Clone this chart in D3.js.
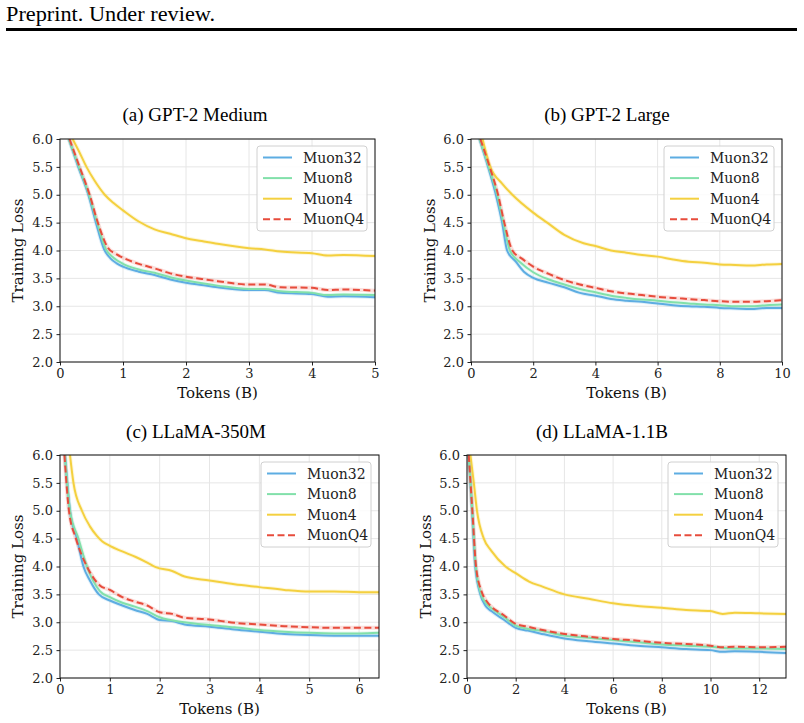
<!DOCTYPE html>
<html><head><meta charset="utf-8">
<script src="https://cdn.jsdelivr.net/npm/d3@7"></script>
<style>body{margin:0;background:#fff}svg{display:block}
.ser{font-family:"DejaVu Serif","Liberation Serif",serif}
.doc{font-family:"Liberation Serif","Times New Roman",serif}
</style>
</head><body>
<svg id="chart" width="804" height="723"></svg>
<script>
// ---------- data ----------
const seriesNames = ["Muon32", "Muon8", "Muon4", "MuonQ4"];
const yTicks = [2.0, 2.5, 3.0, 3.5, 4.0, 4.5, 5.0, 5.5, 6.0];

// (a) GPT-2 Medium
const aTicks = [0, 1, 2, 3, 4, 5];
const aMuon32 = [[0.14,6.0],[0.29,5.5],[0.45,5.0],[0.57,4.5],[0.7,4.02],[0.8,3.86],[0.9,3.77],[1.0,3.71],[1.25,3.62],[1.5,3.56],[1.75,3.48],[2.0,3.42],[2.25,3.38],[2.5,3.34],[3.0,3.29],[3.25,3.29],[3.5,3.24],[4.0,3.22],[4.25,3.17],[4.5,3.18],[5.0,3.16]];
const aMuon8 = [[0.14,6.0],[0.3,5.5],[0.46,5.0],[0.59,4.5],[0.73,4.02],[0.85,3.87],[1.0,3.76],[1.25,3.66],[1.5,3.6],[1.75,3.52],[2.0,3.46],[2.5,3.37],[3.0,3.31],[3.25,3.31],[3.5,3.27],[4.0,3.24],[4.25,3.2],[4.5,3.21],[5.0,3.2]];
const aMuon4 = [[0.2,6.0],[0.3,5.78],[0.42,5.5],[0.55,5.25],[0.71,5.0],[0.85,4.85],[1.0,4.72],[1.25,4.52],[1.5,4.38],[1.75,4.3],[2.0,4.22],[2.25,4.17],[2.5,4.12],[3.0,4.04],[3.25,4.02],[3.5,3.98],[4.0,3.95],[4.25,3.91],[4.5,3.92],[5.0,3.9]];
const aMuonQ4 = [[0.15,6.0],[0.31,5.5],[0.47,5.0],[0.6,4.5],[0.76,4.05],[0.9,3.93],[1.0,3.87],[1.25,3.76],[1.5,3.68],[1.75,3.59],[2.0,3.53],[2.25,3.49],[2.5,3.45],[3.0,3.39],[3.25,3.39],[3.5,3.34],[4.0,3.33],[4.25,3.29],[4.5,3.3],[5.0,3.28]];

// (b) GPT-2 Large
const bTicks = [0, 2, 4, 6, 8, 10];
const bMuon32 = [[0.27,6.0],[0.55,5.5],[0.8,5.0],[1.0,4.5],[1.16,4.0],[1.44,3.8],[1.7,3.62],[2.0,3.51],[2.5,3.42],[3.0,3.34],[3.5,3.24],[4.0,3.19],[4.5,3.13],[5.0,3.1],[5.5,3.08],[6.0,3.05],[6.5,3.02],[7.0,3.0],[7.5,2.99],[8.0,2.97],[8.5,2.96],[9.0,2.95],[9.5,2.97],[10,2.97]];
const bMuon8 = [[0.28,6.0],[0.57,5.5],[0.84,5.0],[1.04,4.5],[1.25,4.0],[1.6,3.78],[2.0,3.61],[2.5,3.48],[3.0,3.39],[3.5,3.31],[4.0,3.25],[4.5,3.19],[5.0,3.15],[5.5,3.12],[6.0,3.1],[6.5,3.07],[7.0,3.05],[7.5,3.03],[8.0,3.02],[8.5,3.0],[9.0,3.0],[9.5,3.02],[10,3.03]];
const bMuon4 = [[0.37,6.0],[0.62,5.5],[1.0,5.2],[1.33,5.0],[2.0,4.68],[2.45,4.5],[3.0,4.28],[3.62,4.13],[4.0,4.08],[4.5,4.0],[5.0,3.96],[5.5,3.92],[6.0,3.89],[6.5,3.84],[7.0,3.8],[7.5,3.78],[8.0,3.75],[8.5,3.74],[9.0,3.73],[9.5,3.75],[10,3.76]];
const bMuonQ4 = [[0.3,6.0],[0.6,5.5],[0.87,5.0],[1.07,4.5],[1.33,4.0],[1.65,3.85],[2.0,3.71],[2.5,3.58],[3.0,3.47],[3.5,3.39],[4.0,3.33],[4.5,3.27],[5.0,3.23],[5.5,3.2],[6.0,3.17],[6.5,3.15],[7.0,3.13],[7.5,3.11],[8.0,3.09],[8.5,3.08],[9.0,3.08],[9.5,3.09],[10,3.11]];

// (c) LLaMA-350M
const cTicks = [0, 1, 2, 3, 4, 5, 6];
const cMuon32 = [[0.1,6.0],[0.2,5.0],[0.34,4.5],[0.47,4.0],[0.6,3.75],[0.78,3.5],[1.0,3.39],[1.25,3.3],[1.5,3.22],[1.75,3.15],[2.0,3.04],[2.25,3.02],[2.5,2.96],[3.0,2.92],[3.5,2.87],[4.0,2.83],[4.5,2.79],[5.0,2.77],[5.5,2.76],[6.0,2.76],[6.4,2.76]];
const cMuon8 = [[0.1,6.0],[0.2,5.0],[0.37,4.5],[0.54,4.0],[0.8,3.56],[1.0,3.45],[1.25,3.35],[1.5,3.28],[1.75,3.2],[2.0,3.09],[2.5,3.0],[3.0,2.95],[3.5,2.91],[4.0,2.86],[4.5,2.83],[5.0,2.81],[5.5,2.8],[6.0,2.8],[6.4,2.81]];
const cMuon4 = [[0.2,6.0],[0.27,5.5],[0.44,5.0],[0.6,4.72],[0.74,4.55],[0.85,4.45],[1.0,4.37],[1.25,4.27],[1.52,4.17],[1.75,4.07],[1.92,3.99],[2.25,3.92],[2.5,3.82],[3.0,3.75],[3.5,3.68],[4.0,3.63],[4.5,3.58],[5.0,3.55],[5.5,3.55],[6.0,3.54],[6.4,3.54]];
const cMuonQ4 = [[0.09,6.0],[0.18,5.0],[0.32,4.5],[0.54,4.0],[0.8,3.66],[1.0,3.58],[1.25,3.45],[1.5,3.37],[1.75,3.3],[2.0,3.18],[2.25,3.15],[2.5,3.08],[3.0,3.05],[3.5,2.99],[4.0,2.96],[4.5,2.93],[5.0,2.91],[5.5,2.9],[6.0,2.9],[6.4,2.9]];

// (d) LLaMA-1.1B
const dTicks = [0, 2, 4, 6, 8, 10, 12];
const dMuon32 = [[0.07,6.0],[0.21,5.0],[0.34,4.0],[0.55,3.5],[0.75,3.3],[1.0,3.2],[1.5,3.05],[2.0,2.9],[2.5,2.85],[3.0,2.8],[4.0,2.71],[5.0,2.66],[6.0,2.62],[7.0,2.58],[8.0,2.55],[9.0,2.52],[10.0,2.5],[10.5,2.47],[11,2.48],[12,2.47],[13.1,2.45]];
const dMuon8 = [[0.07,6.0],[0.22,5.0],[0.36,4.0],[0.58,3.5],[0.8,3.33],[1.0,3.25],[1.5,3.1],[2.0,2.94],[2.5,2.88],[3.0,2.85],[4.0,2.76],[5.0,2.72],[6.0,2.68],[7.0,2.64],[8.0,2.6],[9.0,2.58],[10,2.56],[11,2.53],[12,2.53],[13.1,2.52]];
const dMuon4 = [[0.14,6.0],[0.28,5.5],[0.41,5.0],[0.69,4.5],[1.0,4.28],[1.58,4.0],[2.0,3.88],[2.55,3.73],[3.1,3.64],[4.0,3.5],[5.0,3.42],[6.0,3.34],[7.0,3.29],[8.0,3.26],[9.0,3.22],[10,3.2],[10.5,3.15],[11,3.17],[12,3.16],[13.1,3.15]];
const dMuonQ4 = [[0.07,6.0],[0.22,5.0],[0.37,4.0],[0.6,3.55],[0.8,3.38],[1.0,3.28],[1.5,3.13],[2.0,2.97],[2.5,2.92],[3.0,2.87],[4.0,2.79],[5.0,2.74],[6.0,2.7],[7.0,2.67],[8.0,2.63],[9.0,2.61],[10,2.58],[10.5,2.55],[11,2.56],[12,2.55],[13.1,2.56]];

// ---------- styles ----------
const colors = {Muon32: "#5DADE2", Muon8: "#82E0AA", Muon4: "#F4D03F", MuonQ4: "#E74C3C"};

const svg = d3.select("#chart");

// header
svg.append("text").attr("class", "doc").attr("x", 6).attr("y", 21)
  .style("font-size", "20px")
  .attr("textLength", 209).attr("lengthAdjust", "spacingAndGlyphs")
  .attr("fill", "#000").text("Preprint. Under review.");
svg.append("line").attr("x1", 6).attr("x2", 797).attr("y1", 29.5).attr("y2", 29.5)
  .attr("stroke", "#000").attr("stroke-width", 3);

const panels = [
  {id: "a", title: "(a) GPT-2 Medium", xmax: 5, ticks: aTicks, data: [aMuon32, aMuon8, aMuon4, aMuonQ4],
   left: 60, right: 375, top: 139, bottom: 362, titleX: 195, titleY: 121, ylabX: 18},
  {id: "b", title: "(b) GPT-2 Large", xmax: 10, ticks: bTicks, data: [bMuon32, bMuon8, bMuon4, bMuonQ4],
   left: 471, right: 782, top: 139, bottom: 362, titleX: 607, titleY: 121, ylabX: 430},
  {id: "c", title: "(c) LLaMA-350M", xmax: 6.4, ticks: cTicks, data: [cMuon32, cMuon8, cMuon4, cMuonQ4],
   left: 60, right: 379, top: 455, bottom: 678, titleX: 196, titleY: 438, ylabX: 18},
  {id: "d", title: "(d) LLaMA-1.1B", xmax: 13.1, ticks: dTicks, data: [dMuon32, dMuon8, dMuon4, dMuonQ4],
   left: 467, right: 786, top: 455, bottom: 678, titleX: 602, titleY: 438, ylabX: 426}
];

panels.forEach(p => {
  const x = d3.scaleLinear().domain([0, p.xmax]).range([p.left, p.right]);
  const y = d3.scaleLinear().domain([2.0, 6.0]).range([p.bottom, p.top]);
  const g = svg.append("g");

  // grid
  g.append("g").selectAll("line").data(p.ticks).join("line")
    .attr("x1", d => x(d)).attr("x2", d => x(d)).attr("y1", p.top).attr("y2", p.bottom)
    .attr("stroke", "#e6e6e6").attr("stroke-width", 1);
  g.append("g").selectAll("line").data(yTicks).join("line")
    .attr("x1", p.left).attr("x2", p.right).attr("y1", d => y(d)).attr("y2", d => y(d))
    .attr("stroke", "#e6e6e6").attr("stroke-width", 1);

  // clip
  g.append("clipPath").attr("id", "clip-" + p.id).append("rect")
    .attr("x", p.left).attr("y", p.top).attr("width", p.right - p.left).attr("height", p.bottom - p.top);

  const line = d3.line().x(d => x(d[0])).y(d => y(d[1])).curve(d3.curveMonotoneX);
  const lines = g.append("g").attr("clip-path", `url(#clip-${p.id})`);
  seriesNames.forEach((name, i) => {
    lines.append("path").datum(p.data[i]).attr("d", line)
      .attr("fill", "none").attr("stroke", colors[name]).attr("stroke-width", 4)
      .attr("stroke-opacity", 0.18);
  });
  seriesNames.forEach((name, i) => {
    lines.append("path").datum(p.data[i]).attr("d", line)
      .attr("fill", "none").attr("stroke", colors[name]).attr("stroke-width", 2)
      .attr("stroke-dasharray", name === "MuonQ4" ? "7,3.5" : null);
  });

  // axes
  const xAxis = d3.axisBottom(x).tickValues(p.ticks).tickFormat(d3.format("d")).tickSize(3.5).tickPadding(3);
  const yAxis = d3.axisLeft(y).tickValues(yTicks).tickFormat(d3.format(".1f")).tickSize(3.5).tickPadding(3.5);
  const gx = g.append("g").attr("transform", `translate(0,${p.bottom})`).call(xAxis);
  const gy = g.append("g").attr("transform", `translate(${p.left},0)`).call(yAxis);
  [gx, gy].forEach(a => {
    a.attr("font-family", null).attr("font-size", null);
    a.select(".domain").remove();
    a.selectAll("line").attr("stroke", "#222");
    a.selectAll("text").attr("class", "ser").style("font-size", "13px").attr("fill", "#222");
  });

  // frame
  g.append("rect").attr("x", p.left).attr("y", p.top)
    .attr("width", p.right - p.left).attr("height", p.bottom - p.top)
    .attr("fill", "none").attr("stroke", "#111").attr("stroke-width", 1);

  // labels
  g.append("text").attr("class", "ser").attr("x", (p.left + p.right) / 2).attr("y", p.bottom + 36)
    .attr("text-anchor", "middle").style("font-size", "15px")
    .attr("fill", "#111").text("Tokens (B)");
  g.append("text").attr("class", "ser").attr("transform", `translate(${p.ylabX},${(p.top + p.bottom) / 2}) rotate(-90)`)
    .attr("text-anchor", "middle").attr("dominant-baseline", "central")
    .style("font-size", "15px").attr("fill", "#111").text("Training Loss");
  g.append("text").attr("class", "doc").attr("x", p.titleX).attr("y", p.titleY)
    .attr("text-anchor", "middle").style("font-size", "19px")
    .attr("fill", "#000").text(p.title);

  // legend
  const lx = p.right - 118, ly = p.top + 7;
  const leg = g.append("g").attr("transform", `translate(${lx},${ly})`);
  leg.append("rect").attr("width", 110).attr("height", 85).attr("rx", 3)
    .attr("fill", "#fff").attr("fill-opacity", 0.85).attr("stroke", "#d0d0d0");
  seriesNames.forEach((name, i) => {
    const ry = 11.5 + i * 20.6;
    leg.append("line").attr("x1", 6).attr("x2", 35).attr("y1", ry).attr("y2", ry)
      .attr("stroke", colors[name]).attr("stroke-width", 2)
      .attr("stroke-dasharray", name === "MuonQ4" ? "7,3.5" : null);
    leg.append("text").attr("class", "ser").attr("x", 46).attr("y", ry).attr("dy", "0.36em")
      .style("font-size", "14px").attr("fill", "#222").text(name);
  });
});
</script>
</body></html>
